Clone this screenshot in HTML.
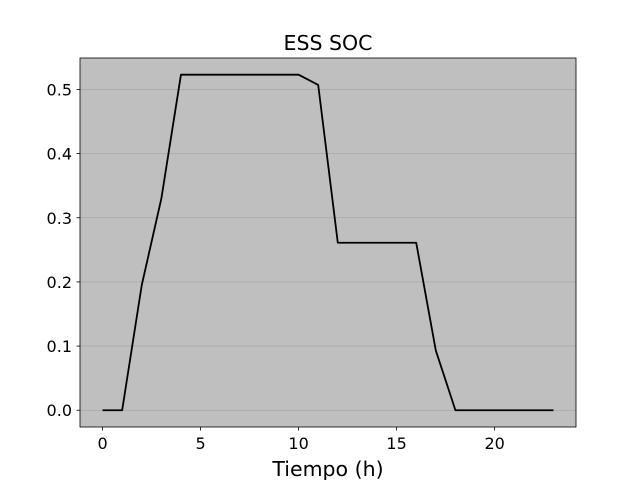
<!DOCTYPE html>
<html><head><meta charset="utf-8"><style>body{margin:0;background:#fff}svg{display:block;font-family:"DejaVu Sans","Liberation Sans",sans-serif}</style></head>
<body>
<svg id="c" width="640" height="480"></svg>
<script>
const hours=[0,1,2,3,4,5,6,7,8,9,10,11,12,13,14,15,16,17,18,19,20,21,22,23];
const soc=[0,0,0.195,0.33,0.523,0.523,0.523,0.523,0.523,0.523,0.523,0.507,0.261,0.261,0.261,0.261,0.261,0.093,0,0,0,0,0,0];
const xTicks=[0,5,10,15,20];
const yTicks=[0.0,0.1,0.2,0.3,0.4,0.5];
const L=80,R=576,T=58,B=427,xmin=-1.15,xmax=24.15,ymin=-0.02615,ymax=0.549;
const X=v=>L+(v-xmin)/(xmax-xmin)*(R-L);
const Y=v=>B-(v-ymin)/(ymax-ymin)*(B-T);
const svg=document.getElementById('c');const ns='http://www.w3.org/2000/svg';
function mk(t,a,p){const e=document.createElementNS(ns,t);for(const k in a)e.setAttribute(k,a[k]);(p||svg).appendChild(e);return e;}
let bg=mk('rect',{x:L,y:T,width:R-L,height:B-T,fill:'#bfbfbf'});


yTicks.forEach(v=>{
 let g=mk('line',{x1:L,x2:R,y1:Y(v),y2:Y(v),stroke:'#a8a8a8','stroke-width':0.8});
 
 
 mk('line',{x1:L-3.5,x2:L,y1:Y(v),y2:Y(v),stroke:'#000','stroke-width':0.8});
 let t=mk('text',{x:L-8,y:Y(v)+6,'text-anchor':'end','font-size':16});t.textContent=v.toFixed(1);
 
 
});
xTicks.forEach(v=>{
 mk('line',{x1:X(v),x2:X(v),y1:B,y2:B+3.5,stroke:'#000','stroke-width':0.8});
 let t=mk('text',{x:X(v),y:B+22,'text-anchor':'middle','font-size':16});t.textContent=v;
 
 
});
let ln=mk('polyline',{points:hours.map((h,i)=>X(h)+','+Y(soc[i])).join(' '),fill:'none',stroke:'#000','stroke-width':1.8,'stroke-linejoin':'round'});


let fr=mk('rect',{x:L,y:T,width:R-L,height:B-T,fill:'none',stroke:'#000','stroke-width':0.8});


let ti=mk('text',{x:(L+R)/2,y:50,'text-anchor':'middle','font-size':20.5});ti.textContent='ESS SOC';


let xl=mk('text',{x:(L+R)/2,y:476,'text-anchor':'middle','font-size':20.5});xl.textContent='Tiempo (h)';


</script>
</body></html>
